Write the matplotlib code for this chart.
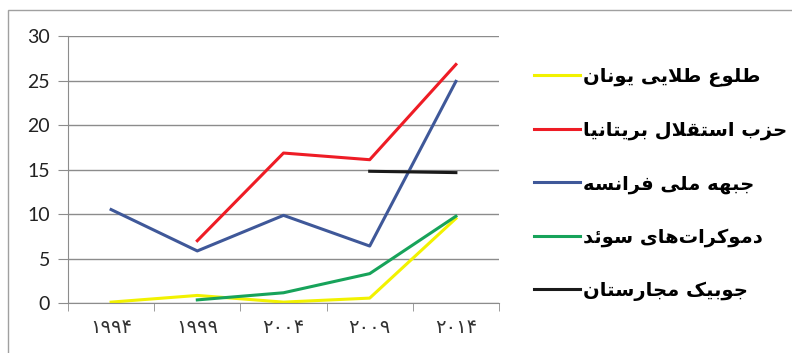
import matplotlib.pyplot as plt
from matplotlib.patches import Rectangle

years = ["۱۹۹۴", "۱۹۹۹", "۲۰۰۴", "۲۰۰۹", "۲۰۱۴"]
golden_dawn = [0.1, 0.85, 0.1, 0.55, 9.5]
ukip = [None, 7.0, 16.85, 16.1, 26.8]
front_national = [10.5, 5.85, 9.85, 6.4, 24.9]
sweden_dem = [None, 0.35, 1.15, 3.3, 9.75]
jobbik = [None, None, None, 14.8, 14.65]

names = ["طلوع طلایی یونان", "حزب استقلال بریتانیا", "جبهه ملی فرانسه",
         "دموکرات\u200cهای سوئد", "جوبیک مجارستان"]
colors = ["#f2f200", "#ee1c25", "#3f5899", "#17a35a", "#1a1a1a"]

# minimal arabic shaping, matplotlib has no bidi / joining support
FORMS = {
    "\u0627": (0xFE8D, 0xFE8E, None, None),
    "\u0628": (0xFE8F, 0xFE90, 0xFE91, 0xFE92),
    "\u062A": (0xFE95, 0xFE96, 0xFE97, 0xFE98),
    "\u062C": (0xFE9D, 0xFE9E, 0xFE9F, 0xFEA0),
    "\u062D": (0xFEA1, 0xFEA2, 0xFEA3, 0xFEA4),
    "\u062F": (0xFEA9, 0xFEAA, None, None),
    "\u0631": (0xFEAD, 0xFEAE, None, None),
    "\u0632": (0xFEAF, 0xFEB0, None, None),
    "\u0633": (0xFEB1, 0xFEB2, 0xFEB3, 0xFEB4),
    "\u0637": (0xFEC1, 0xFEC2, 0xFEC3, 0xFEC4),
    "\u0639": (0xFEC9, 0xFECA, 0xFECB, 0xFECC),
    "\u0641": (0xFED1, 0xFED2, 0xFED3, 0xFED4),
    "\u0642": (0xFED5, 0xFED6, 0xFED7, 0xFED8),
    "\u0644": (0xFEDD, 0xFEDE, 0xFEDF, 0xFEE0),
    "\u0645": (0xFEE1, 0xFEE2, 0xFEE3, 0xFEE4),
    "\u0646": (0xFEE5, 0xFEE6, 0xFEE7, 0xFEE8),
    "\u0647": (0xFEE9, 0xFEEA, 0xFEEB, 0xFEEC),
    "\u0648": (0xFEED, 0xFEEE, None, None),
    "\u0626": (0xFE89, 0xFE8A, 0xFE8B, 0xFE8C),
    "\u06CC": (0xFBFC, 0xFBFD, 0xFBFE, 0xFBFF),
    "\u06A9": (0xFB8E, 0xFB8F, 0xFB90, 0xFB91),
}


def shape(s):
    # merge lam + alef into one unit
    units = []
    i = 0
    while i < len(s):
        if s[i] == "\u0644" and i + 1 < len(s) and s[i + 1] == "\u0627":
            units.append("LA")
            i += 2
        else:
            units.append(s[i])
            i += 1

    def dual(u):
        return u in FORMS and FORMS[u][2] is not None

    def letter(u):
        return u in FORMS or u == "LA"

    out = []
    for k, u in enumerate(units):
        prev = units[k - 1] if k > 0 else None
        nxt = units[k + 1] if k + 1 < len(units) else None
        jp = prev is not None and dual(prev)
        if u == "LA":
            out.append(chr(0xFEFC if jp else 0xFEFB))
            continue
        if u not in FORMS:
            if u != "\u200c":
                out.append(u)
            continue
        jn = dual(u) and nxt is not None and letter(nxt)
        iso, fin, ini, med = FORMS[u]
        if jp and jn:
            out.append(chr(med))
        elif jp:
            out.append(chr(fin))
        elif jn:
            out.append(chr(ini))
        else:
            out.append(chr(iso))
    return "".join(out)[::-1]


fig = plt.figure(figsize=(7.92, 3.53), dpi=100)
fig.patches.append(Rectangle((8 / 792, -0.05), 1.1, 1 - 10 / 353 + 0.05,
                             transform=fig.transFigure, fill=False,
                             edgecolor="#a0a0a0", linewidth=1))
ax = fig.add_axes([68 / 792, 1 - 303 / 353, 431 / 792, 267 / 353])

x = list(range(len(years)))
series = [golden_dawn, ukip, front_national, sweden_dem, jobbik]
for vals, name, c in zip(series, names, colors):
    xs = [xi for xi, v in zip(x, vals) if v is not None]
    ys = [v for v in vals if v is not None]
    ax.plot(xs, ys, color=c, linewidth=2.2, label=shape(name))

ax.set_xlim(-0.5, 4.5)
ax.set_ylim(0, 30)
ax.set_yticks(range(0, 31, 5))
ax.set_yticklabels([str(v) for v in range(0, 31, 5)], fontsize=14, family="Lato", color="#222222")
ax.set_xticks(x)
ax.set_xticklabels(years, fontsize=14, family="DejaVu Sans", color="#333333")
ax.set_xticks([i - 0.5 for i in range(6)], minor=True)
ax.tick_params(axis="x", which="major", length=0, pad=11)
ax.tick_params(axis="x", which="minor", length=6, color="#8c8c8c")
ax.tick_params(axis="y", length=7, color="#8c8c8c", pad=6)
ax.grid(axis="y", color="#8c8c8c", linewidth=1)
ax.set_axisbelow(True)
for side in ["top", "right"]:
    ax.spines[side].set_visible(False)
for side in ["left", "bottom"]:
    ax.spines[side].set_color("#8c8c8c")

leg = fig.legend(loc="upper left", bbox_to_anchor=(526 / 792, 1 - 59 / 353),
                 frameon=False, labelspacing=1.75, handlelength=2.4,
                 handletextpad=0.15, borderaxespad=0,
                 prop={"family": "DejaVu Sans", "weight": "bold", "size": 14})

fig.savefig("out.png", dpi=100)
